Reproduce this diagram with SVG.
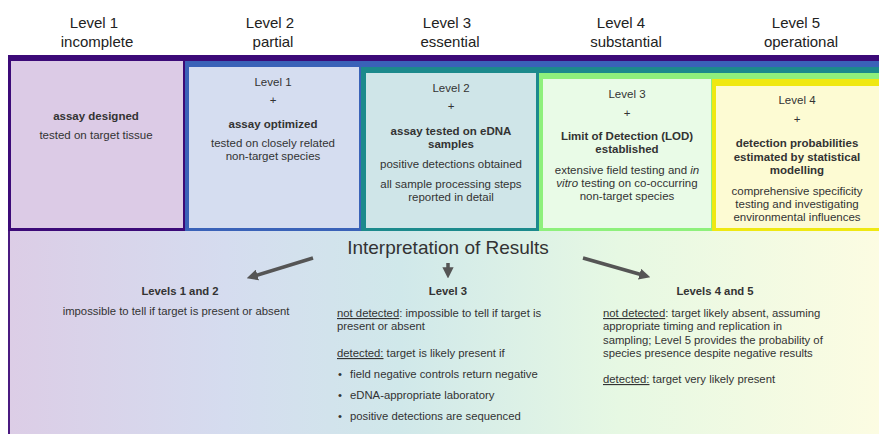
<svg xmlns="http://www.w3.org/2000/svg" width="879" height="434" viewBox="0 0 879 434">
<style>
text{font-family:"Liberation Sans",Arial,sans-serif;fill:#333;}
.hd{font-size:15px;text-anchor:middle;fill:#222;}
.t{font-size:11.5px;text-anchor:middle;}
.r{font-size:11.3px;text-anchor:middle;}
.b{font-weight:bold;}
.l{font-size:11.3px;}
.u{text-decoration:underline;}
.arr{stroke:#555;stroke-width:3.5;fill:none;marker-end:url(#ah);}
</style>
<defs>
<marker id="ah" viewBox="0 0 10 10" refX="6" refY="5" markerWidth="3.2" markerHeight="3.2" orient="auto" markerUnits="strokeWidth">
<path d="M0,0 L10,5 L0,10 z" fill="#555"/>
</marker>
<linearGradient id="bg" x1="0" y1="0" x2="1" y2="0">
<stop offset="0" stop-color="#dccde6"/>
<stop offset="0.25" stop-color="#d5dcef"/>
<stop offset="0.45" stop-color="#d0e8ea"/>
<stop offset="0.7" stop-color="#e6f8e3"/>
<stop offset="1" stop-color="#fcfce2"/>
</linearGradient>
</defs>
<rect x="0" y="0" width="879" height="434" fill="#fff"/>

<g id="headers">
<text class="hd" x="94" y="28">Level 1</text>
<text class="hd" x="97" y="47">incomplete</text>
<text class="hd" x="270" y="28">Level 2</text>
<text class="hd" x="273" y="47">partial</text>
<text class="hd" x="447" y="28">Level 3</text>
<text class="hd" x="450" y="47">essential</text>
<text class="hd" x="621" y="28">Level 4</text>
<text class="hd" x="626" y="47">substantial</text>
<text class="hd" x="796" y="28">Level 5</text>
<text class="hd" x="801" y="47">operational</text>
</g>

<g id="level1">
<rect x="8" y="55" width="871" height="176" fill="#3c0a78"/>
<rect x="11" y="61" width="172" height="167" fill="#dccbe6"/>
<text class="t b" x="96" y="120">assay designed</text>
<text class="t" x="96" y="139">tested on target tissue</text>
</g>

<g id="level2">
<rect x="185" y="61" width="694" height="170" fill="#3a62b8"/>
<rect x="189" y="67" width="170" height="161" fill="#d5ddf0"/>
<text class="t" x="273" y="86">Level 1</text>
<text class="t" x="273" y="104">+</text>
<text class="t b" x="273" y="128">assay optimized</text>
<text class="t" x="273" y="147">tested on closely related</text>
<text class="t" x="273" y="160">non-target species</text>
</g>

<g id="level3">
<rect x="361" y="67" width="518" height="164" fill="#1c8a8c"/>
<rect x="366" y="73" width="170" height="155" fill="#cfe5e8"/>
<text class="t" x="451" y="92">Level 2</text>
<text class="t" x="451" y="110">+</text>
<text class="t b" x="451" y="135">assay tested on eDNA</text>
<text class="t b" x="451" y="148">samples</text>
<text class="t" x="451" y="168">positive detections obtained</text>
<text class="t" x="451" y="188">all sample processing steps</text>
<text class="t" x="451" y="201">reported in detail</text>
</g>

<g id="level4">
<rect x="539" y="73" width="340" height="158" fill="#8ef07c"/>
<rect x="543" y="79" width="168" height="149" fill="#e9fbe7"/>
<text class="t" x="627" y="98">Level 3</text>
<text class="t" x="627" y="117">+</text>
<text class="t b" x="627" y="140">Limit of Detection (LOD)</text>
<text class="t b" x="627" y="153">established</text>
<text class="t" x="627" y="174">extensive field testing and <tspan font-style="italic">in</tspan></text>
<text class="t" x="627" y="187"><tspan font-style="italic">vitro</tspan> testing on co-occurring</text>
<text class="t" x="627" y="200">non-target species</text>
</g>

<g id="level5">
<rect x="712" y="79" width="167" height="152" fill="#efe812"/>
<rect x="716" y="86" width="163" height="142" fill="#fdfbd3"/>
<text class="t" x="797" y="104">Level 4</text>
<text class="t" x="797" y="123">+</text>
<text class="t b" x="797" y="147">detection probabilities</text>
<text class="t b" x="797" y="161">estimated by statistical</text>
<text class="t b" x="797" y="174">modelling</text>
<text class="t" x="797" y="195">comprehensive specificity</text>
<text class="t" x="797" y="208">testing and investigating</text>
<text class="t" x="797" y="221">environmental influences</text>
</g>

<g id="interpretation">
<rect x="8" y="231" width="871" height="203" fill="url(#bg)"/>
<rect x="8" y="231" width="2" height="203" fill="#4a1a80"/>
<text x="448" y="254" font-size="19" text-anchor="middle" fill="#222">Interpretation of Results</text>
</g>

<g id="connectors">
<line class="arr" x1="313" y1="258" x2="251" y2="277"/>
<line class="arr" x1="448" y1="263" x2="448" y2="274"/>
<line class="arr" x1="583" y1="258" x2="646" y2="276"/>
</g>

<g id="levels12">
<text class="r b" x="180" y="295">Levels 1 and 2</text>
<text class="r" x="176" y="315">impossible to tell if target is present or absent</text>
</g>

<g id="level3result">
<text class="r b" x="448" y="295">Level 3</text>
<text class="l" x="337" y="317"><tspan class="u">not detected</tspan>: impossible to tell if target is</text>
<text class="l" x="337" y="330">present or absent</text>
<text class="l" x="337" y="357"><tspan class="u">detected:</tspan> target is likely present if</text>
<text class="l" x="338" y="378">•</text>
<text class="l" x="350" y="378">field negative controls return negative</text>
<text class="l" x="338" y="399">•</text>
<text class="l" x="350" y="399">eDNA-appropriate laboratory</text>
<text class="l" x="338" y="420">•</text>
<text class="l" x="350" y="420">positive detections are sequenced</text>
</g>

<g id="levels45">
<text class="r b" x="715" y="295">Levels 4 and 5</text>
<text class="l" x="603" y="317"><tspan class="u">not detected</tspan>: target likely absent, assuming</text>
<text class="l" x="603" y="330">appropriate timing and replication in</text>
<text class="l" x="603" y="344">sampling; Level 5 provides the probability of</text>
<text class="l" x="603" y="357">species presence despite negative results</text>
<text class="l" x="603" y="383"><tspan class="u">detected:</tspan> target very likely present</text>
</g>
</svg>
